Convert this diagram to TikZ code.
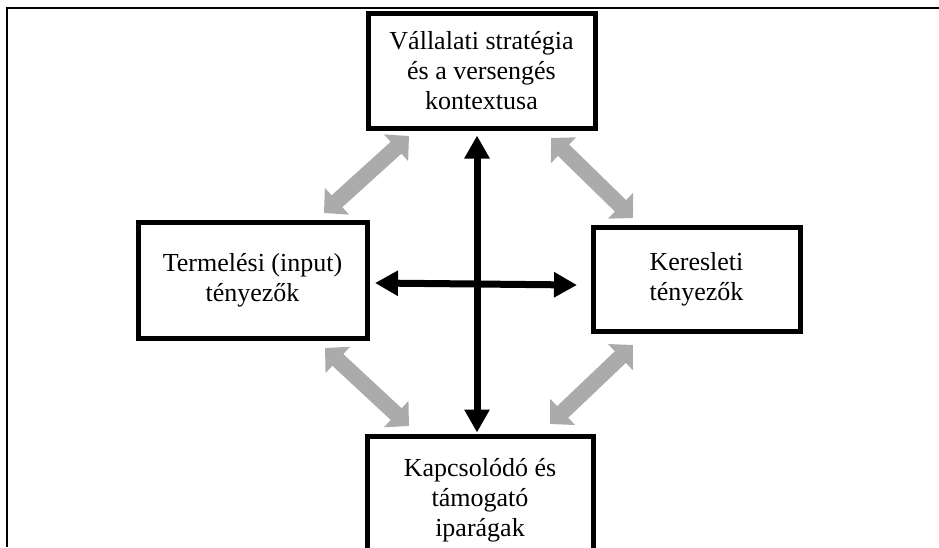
\documentclass[tikz,border=0pt]{standalone}
\usepackage{fontspec}
\setmainfont{Liberation Serif}
\usetikzlibrary{arrows.meta}
\definecolor{linkgray}{RGB}{171,171,171}
\tikzset{
  factor/.style={draw=black, line width=5pt, fill=white, align=center,
    inner sep=0pt, font=\fontsize{26}{30}\selectfont},
  mainlink/.style={line width=7pt,
    {Triangle[length=23pt,width=24pt]}-{Triangle[length=23pt,width=24pt]}},
  sidelink/.style={draw=linkgray, line width=16pt,
    {Triangle[length=17.5pt,width=35pt]}-{Triangle[length=17.5pt,width=35pt]}},
  frameline/.style={line width=2.5pt}
}
\begin{document}
\begin{tikzpicture}[x=1pt,y=-1pt]
  \useasboundingbox (0,0) rectangle (939,547);
  \clip (0,0) rectangle (939,547);
  % outer frame (top and left edges)
  \draw[frameline] (7,547) -- (7,8) -- (939,8);

  % the four factors
  \node[factor, minimum width=227pt, minimum height=115pt] (T) at (481.5,70.5)
    {Vállalati stratégia\\és a versengés\\kontextusa};
  \node[factor, minimum width=229pt, minimum height=116pt] (L) at (252.5,280)
    {Termelési (input)\\tényezők};
  \node[factor, minimum width=207pt, minimum height=104pt] (R) at (696.5,279)
    {Keresleti\\tényezők};
  \node[factor, minimum width=226pt, minimum height=128pt] (B) at (480,500)
    {Kapcsolódó és\\támogató\\iparágak};

  % black cross
  \coordinate (vTop) at ([xshift=-4.5pt,yshift=-5pt]T.south);
  \coordinate (vBot) at ([xshift=-3pt,yshift=1pt]B.north);
  \coordinate (hL) at (375,283);
  \coordinate (hR) at (577,285);
  \draw[mainlink] (vTop) -- (vBot);
  \draw[mainlink] (hL) -- (hR);

  % grey diagonal links
  \coordinate (tl1) at (324,213);
  \coordinate (tl2) at (409,136);
  \coordinate (tr1) at (551,138);
  \coordinate (tr2) at (633,218);
  \coordinate (bl1) at (325,348);
  \coordinate (bl2) at (409,426);
  \coordinate (br1) at (550,424);
  \coordinate (br2) at (633,345);
  \draw[sidelink] (tl1) -- (tl2);
  \draw[sidelink] (tr1) -- (tr2);
  \draw[sidelink] (bl1) -- (bl2);
  \draw[sidelink] (br1) -- (br2);
\end{tikzpicture}
\end{document}
